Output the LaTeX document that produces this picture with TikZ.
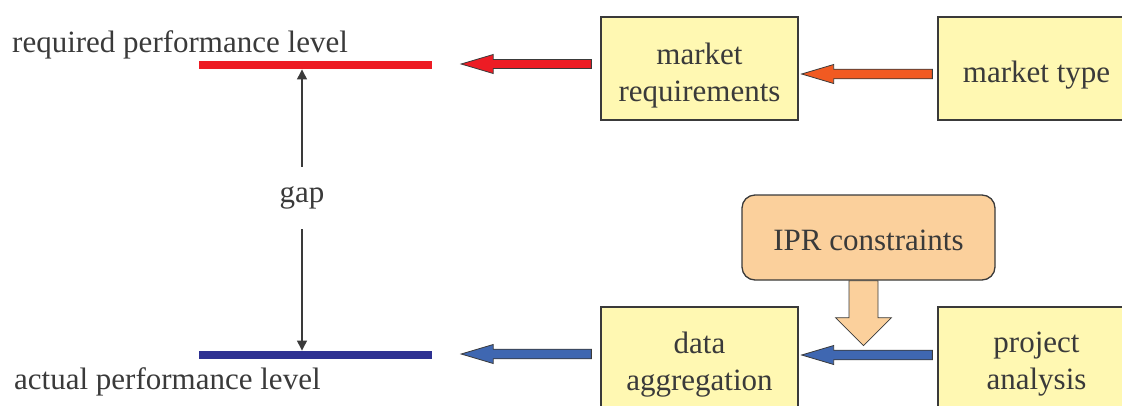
\documentclass[tikz,border=0pt]{standalone}
\usepackage{fontspec}
\setmainfont{Liberation Serif}
\usetikzlibrary{calc,arrows.meta}

\definecolor{txt}{HTML}{3A3A3A}
\definecolor{boxfill}{HTML}{FFF8B2}
\definecolor{boxline}{HTML}{3A3A3A}
\definecolor{iprfill}{HTML}{FBD09C}
\definecolor{reqred}{HTML}{ED1C24}
\definecolor{typeorange}{HTML}{F15A22}
\definecolor{flowblue}{HTML}{3F67B1}
\definecolor{actblue}{HTML}{2E3192}

% block arrow: #1 fill, #2 tail, #3 tip, #4 shaft half-width, #5 head half-width, #6 head length (pt)
\newcommand\blockarrow[6]{%
  \draw[blockedge, fill=#1] let \p1=#2, \p2=#3,
      \n1={atan2(\y1-\y2,\x1-\x2)}, \n2={veclen(\x1-\x2,\y1-\y2)} in
    (\p2)
    -- ($(\p2)+(\n1:#6pt)+(\n1+90:#5pt)$)
    -- ($(\p2)+(\n1:#6pt)+(\n1+90:#4pt)$)
    -- ($(\p2)+(\n1:\n2)+(\n1+90:#4pt)$)
    -- ($(\p2)+(\n1:\n2)+(\n1-90:#4pt)$)
    -- ($(\p2)+(\n1:#6pt)+(\n1-90:#4pt)$)
    -- ($(\p2)+(\n1:#6pt)+(\n1-90:#5pt)$)
    -- cycle;
}

\begin{document}
\begin{tikzpicture}[x=1pt, y=-1pt,
    every node/.style={font=\fontsize{31}{37}\selectfont, text=txt},
    infobox/.style={draw=boxline, line width=1.3pt, fill=boxfill,
      minimum width=197pt, minimum height=103pt, inner sep=0pt},
    iprbox/.style={draw=boxline, line width=1.3pt, fill=iprfill, rounded corners=13pt,
      minimum width=253pt, minimum height=85pt, inner sep=0pt},
    boxtext/.style={align=center, inner sep=0pt},
    levelbar/.style={minimum width=233pt, minimum height=8.5pt, inner sep=0pt},
    blockedge/.style={draw=boxline, line width=0.8pt, line join=miter},
    gaparrow/.style={draw=boxline, line width=1.3pt, -{Triangle[length=10pt,width=10pt]}}]

  \useasboundingbox (0,0) rectangle (1122,405);
  \clip (0,0) rectangle (1122,405);

  % performance levels
  \node[levelbar, fill=reqred] (req) at (315.5,65) {};
  \node[levelbar, fill=actblue] (act) at (315.5,355) {};
  \node[anchor=base west, inner sep=0pt] (reqlabel) at (12,52) {required performance level};
  \node[anchor=base west, inner sep=0pt] (actlabel) at (14,389) {actual performance level};

  % gap between the levels
  \node[minimum height=62pt, inner sep=0pt] (gap) at (302,198) {gap};
  \draw[gaparrow] (gap.north) -- (gap.north |- req.south);
  \draw[gaparrow] (gap.south) -- (gap.south |- act.north);

  % boxes
  \node[infobox] (mreq) at (699.5,68.5) {};
  \node[infobox] (mtype) at (1036.5,68.5) {};
  \node[infobox] (agg) at (699.5,358.5) {};
  \node[infobox] (proj) at (1036.5,358.5) {};
  \node[iprbox] (ipr) at (868.5,237.5) {};

  % box captions
  \node[boxtext] (mreqtext) at ($(mreq)+(0,7)$) {market\\requirements};
  \node[boxtext] (mtypetext) at ($(mtype)+(0,6.5)$) {market type};
  \node[boxtext] (aggtext) at ($(agg)+(0,6)$) {data\\aggregation};
  \node[boxtext] (projtext) at ($(proj)+(0,6)$) {project\\analysis};
  \node[boxtext] (iprtext) at ($(ipr)+(0,3)$) {IPR constraints};

  % flows
  \blockarrow{reqred}{($(mreq.west |- req.east)+(-9,-1)$)}{($(req.east)+(29,-1)$)}{4.5}{9.5}{32}
  \blockarrow{typeorange}{($(mtype.west)+(-5,5.5)$)}{($(mreq.east)+(3,5.5)$)}{4.8}{9.5}{32}
  \blockarrow{flowblue}{($(agg.west |- act.east)+(-9,-1)$)}{($(act.east)+(29,-1)$)}{4.8}{9.5}{32}
  \blockarrow{flowblue}{($(proj.west)+(-5,-3.5)$)}{($(agg.east)+(3,-3.5)$)}{4.8}{9.5}{32}
  \blockarrow{iprfill}{($(ipr.south)+(-5,0)$)}{($(ipr.south)+(-5,65)$)}{14.5}{28}{28}
\end{tikzpicture}
\end{document}
